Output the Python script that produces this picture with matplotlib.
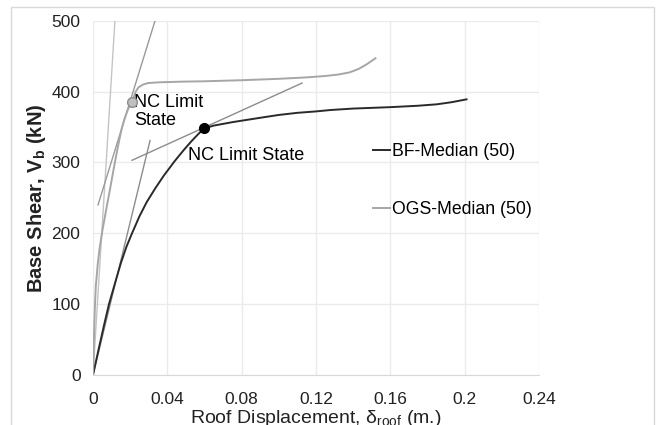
import numpy as np
import matplotlib
matplotlib.use("Agg")
import matplotlib.pyplot as plt
from matplotlib.patches import Rectangle

plt.rcParams['font.family'] = ['Liberation Sans', 'DejaVu Sans']
plt.rcParams['mathtext.fontset'] = 'custom'
plt.rcParams['mathtext.rm'] = 'Liberation Sans'
plt.rcParams['mathtext.it'] = 'Liberation Sans'
plt.rcParams['mathtext.bf'] = 'Liberation Sans:bold'

# pushover curves (roof displacement in m, base shear in kN)
bf_disp = [0, 0.003, 0.006, 0.0086, 0.012, 0.015, 0.018, 0.021, 0.025, 0.0289,
           0.0334, 0.038, 0.044, 0.049, 0.053, 0.057, 0.0598, 0.065, 0.0754,
           0.09, 0.1, 0.11, 0.12, 0.128, 0.14, 0.16, 0.175, 0.185, 0.193, 0.201]
bf_shear = [0, 36, 71, 100, 131, 158, 181, 200, 224, 244,
            263, 281, 302, 318, 330, 341, 348, 352, 357,
            363, 367, 370, 372, 374, 376, 378, 380, 382, 385, 389]

ogs_disp = [0, 0.0005, 0.001, 0.0015, 0.0025, 0.0035, 0.005, 0.007, 0.009, 0.011,
            0.0125, 0.014, 0.0155, 0.017, 0.019, 0.021, 0.022, 0.023, 0.0245,
            0.027, 0.0297, 0.035, 0.048, 0.06, 0.08, 0.1, 0.115, 0.125, 0.132,
            0.138, 0.143, 0.147, 0.152]
ogs_shear = [0, 50, 95, 125, 155, 178, 203, 232, 260, 289,
             310, 330, 348, 362, 376, 385, 393, 400, 406,
             410, 412, 413, 414, 414.5, 416, 418, 420, 422, 424,
             427, 432, 438, 447]

# NC limit state points
bf_nc = (0.0598, 348)
ogs_nc = (0.021, 385)

# bilinear fit lines
bf_elastic_x, bf_elastic_y = [0, 0.0307], [0, 331]
bf_plastic_x, bf_plastic_y = [0.021, 0.1125], [303, 412]
ogs_elastic_x, ogs_elastic_y = [0, 0.0118], [0, 500]
ogs_plastic_x, ogs_plastic_y = [0.0027, 0.0334], [240, 500]

x_ticks = [0, 0.04, 0.08, 0.12, 0.16, 0.2, 0.24]
x_labels = ["0", "0.04", "0.08", "0.12", "0.16", "0.2", "0.24"]
y_ticks = [0, 100, 200, 300, 400, 500]

fig = plt.figure(figsize=(6.62, 4.25), dpi=100)
ax = fig.add_axes([93 / 662, 1 - 375 / 425, 446 / 662, 354.3 / 425])

# outer chart border
fig.patches.append(Rectangle((11 / 662, -0.2), 643 / 662, 1.2 - 7 / 425,
                             transform=fig.transFigure, fill=False,
                             edgecolor='#d9d9d9', lw=1.0, zorder=0))

ax.plot(ogs_elastic_x, ogs_elastic_y, color='#c4c4c4', lw=1.0)
ax.plot(ogs_plastic_x, ogs_plastic_y, color='#9a9a9a', lw=1.0)
ax.plot(bf_elastic_x, bf_elastic_y, color='#8c8c8c', lw=1.0)
ax.plot(bf_plastic_x, bf_plastic_y, color='#8c8c8c', lw=1.0)

ax.plot(bf_disp, bf_shear, color='#2a2a2a', lw=1.4, label='BF-Median (50)')
ax.plot(ogs_disp, ogs_shear, color='#a6a6a6', lw=1.4, label='OGS-Median (50)')

ax.plot(*bf_nc, 'o', color='black', ms=7, zorder=5)
ax.plot(*ogs_nc, 'o', mfc='#bfbfbf', mec='#8c8c8c', ms=7, mew=1, zorder=5)

ax.text(ogs_nc[0] + 0.0012, ogs_nc[1] + 12, 'NC Limit\nState', fontsize=13,
        va='top', ha='left', linespacing=1.1)
ax.text(0.051, 310, 'NC Limit State', fontsize=13, va='center', ha='left')

ax.set_xlim(0, 0.24)
ax.set_ylim(0, 500)
ax.set_xticks(x_ticks)
ax.set_xticklabels(x_labels)
ax.set_yticks(y_ticks)
ax.tick_params(length=0, labelsize=12.5, colors='#222222')
ax.tick_params(axis='x', pad=12)
ax.tick_params(axis='y', pad=9)
ax.grid(True, color='#ebebeb', lw=1.0)
for s in ['top', 'right', 'left']:
    ax.spines[s].set_visible(False)
ax.spines['bottom'].set_color('#d9d9d9')

ax.set_xlabel(r'Roof Displacement, δ$_{\mathrm{roof}}$ (m.)', fontsize=14,
              labelpad=1, color='#222222')
ax.set_ylabel(r'Base Shear, V$_{\mathbf{b}}$ (kN)', fontsize=14.5,
              fontweight='bold', labelpad=2.5, color='#222222')

ax.legend(loc='upper left', bbox_to_anchor=(0.628, 0.655), frameon=False,
          fontsize=12.7, handlelength=0.95, handletextpad=0.15,
          labelspacing=2.35, borderpad=0, borderaxespad=0)

fig.savefig('out.png', dpi=100)
